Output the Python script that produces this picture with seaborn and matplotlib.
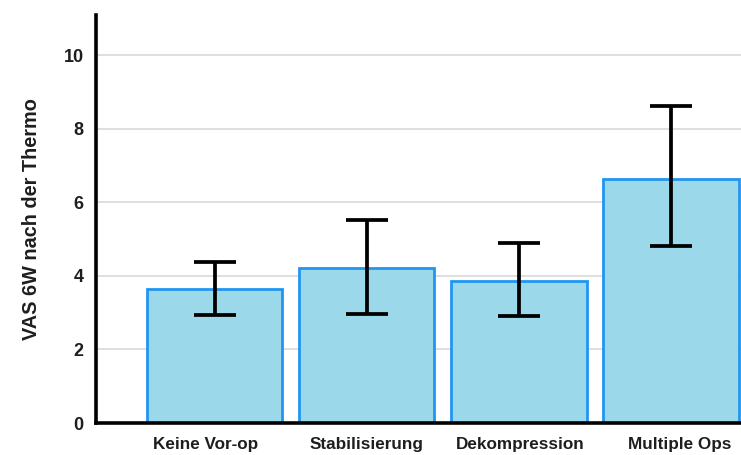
import matplotlib
matplotlib.use("Agg")
import matplotlib.pyplot as plt
import matplotlib.transforms as mtransforms
import seaborn as sns
import numpy as np
import pandas as pd

# Mean VAS score six weeks after thermocoagulation, by prior surgery group
categories = ["Keine Vor-op", "Stabilisierung", "Dekompression", "Multiple Ops"]
means = [3.65, 4.22, 3.87, 6.65]
err_lower = [2.94, 2.97, 2.92, 4.82]
err_upper = [4.39, 5.53, 4.90, 8.61]
y_ticks = [0, 2, 4, 6, 8, 10]

df = pd.DataFrame({"gruppe": categories, "vas": means})

sns.set_theme(style="white")
plt.rcParams["font.family"] = ["Liberation Sans", "DejaVu Sans"]
plt.rcParams["font.weight"] = "bold"

fig = plt.figure(figsize=(7.41, 4.55), dpi=100)
ax = fig.add_axes([0.1296, 0.0703, 0.8704, 0.897])

sns.barplot(data=df, x="gruppe", y="vas", ax=ax, color="#9ad8ea",
            edgecolor="#2196f0", linewidth=2.0, width=0.89, errorbar=None,
            saturation=1, zorder=2)

x = np.arange(len(categories))
m = np.array(means)
yerr = [m - np.array(err_lower), np.array(err_upper) - m]
ax.errorbar(x, m, yerr=yerr, fmt="none", ecolor="black", elinewidth=2.7,
            capsize=14.8, capthick=2.7, zorder=3)

ax.set_xlim(-0.78, 3.46)
ax.set_ylim(0, 11.1)
ax.set_yticks(y_ticks)
ax.set_yticklabels([str(t) for t in y_ticks])
ax.yaxis.grid(True, color="#dcdcdc", linewidth=1.3, zorder=0)
ax.set_axisbelow(True)

for side in ["top", "right"]:
    ax.spines[side].set_visible(False)
for side in ["left", "bottom"]:
    ax.spines[side].set_color("black")
    ax.spines[side].set_linewidth(2.6)

ax.tick_params(axis="y", length=0, pad=9, labelsize=13, labelcolor="#1e1e1e")
ax.tick_params(axis="x", length=0, pad=10, labelsize=12.3, labelcolor="#1e1e1e")
for lbl in ax.get_xticklabels() + ax.get_yticklabels():
    lbl.set_fontweight("bold")

# nudge the outer category labels slightly outward
label_shift_px = [-9, 0, 1, 9]
for lbl, dx in zip(ax.get_xticklabels(), label_shift_px):
    lbl.set_transform(lbl.get_transform() +
                      mtransforms.ScaledTranslation(dx / 100, 0, fig.dpi_scale_trans))

ax.set_xlabel("")
ax.set_ylabel("VAS 6W nach der Thermo", fontsize=14.3, fontweight="bold",
              color="#1e1e1e", labelpad=16)

fig.savefig("out.png", dpi=100)
